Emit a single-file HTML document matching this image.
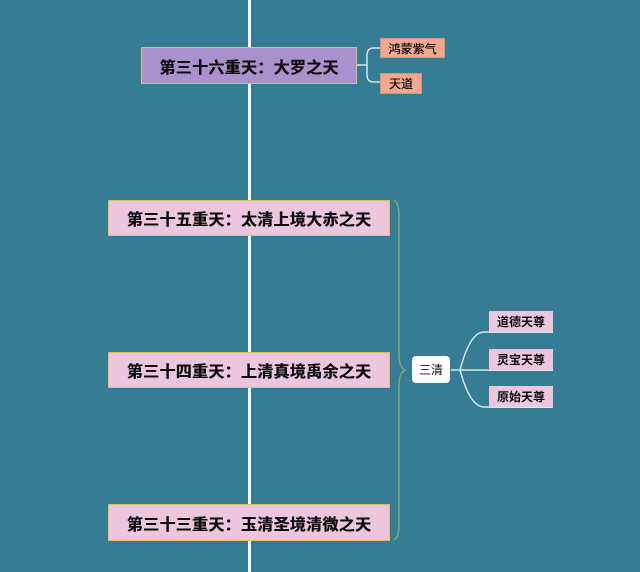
<!DOCTYPE html>
<html><head><meta charset="utf-8">
<style>
html,body{margin:0;padding:0}
body{width:640px;height:572px;background:#357c94;position:relative;overflow:hidden;font-family:"Liberation Sans","Noto Sans CJK SC",sans-serif}
.vl{position:absolute;left:248px;top:0;width:3px;height:572px;background:#fff}
.n{position:absolute;box-sizing:border-box;display:flex;align-items:center;justify-content:center;color:#0d0d0d;white-space:nowrap}
.big{border:1px solid #e9bd5c;font-size:16px;font-weight:bold;letter-spacing:0.3px;text-shadow:0.4px 0 0 #0d0d0d}
.pink{background:#ecc5de}
.purple{background:#aa90cc}
.sal{background:#f1a890;border:1px solid #e0907a;font-size:12px;text-shadow:0.3px 0 0 #0d0d0d}
.ch{background:#ecc5de;font-size:12px;font-weight:bold;border-bottom:1px solid #dfe8ee}
svg{position:absolute;left:0;top:0}
</style></head><body>
<div class="vl"></div>
<svg width="640" height="572">
<g fill="none" stroke="#d4e6ee" stroke-width="1.5">
<path d="M357 65 H367 M380 48 H374 Q367 48 367 55 V75 Q367 82 374 82 H380"/>
<path d="M451 370 H553"/>
<path d="M460 370 Q470 332 484 332 H553"/>
<path d="M460 370 Q470 407 484 407 H553"/>
</g>
<path d="M394 200 Q399 203 399 215 V355 Q399 367 405 370 Q399 373 399 385 V525 Q399 537 394 540" fill="none" stroke="#74a77a" stroke-width="1.6"/>
</svg>
<div class="n big purple" style="left:141px;top:47px;width:216px;height:37px">第三十六重天：大罗之天</div>
<div class="n sal" style="left:380px;top:38px;width:65px;height:20px">鸿蒙紫气</div>
<div class="n sal" style="left:380px;top:73px;width:42px;height:21px">天道</div>
<div class="n big pink" style="left:108px;top:200px;width:282px;height:36px">第三十五重天：太清上境大赤之天</div>
<div class="n big pink" style="left:108px;top:352px;width:282px;height:36px">第三十四重天：上清真境禹余之天</div>
<div class="n big pink" style="left:108px;top:504px;width:282px;height:37px">第三十三重天：玉清圣境清微之天</div>
<div class="n" style="left:412px;top:356px;width:38px;height:27px;background:#fff;border-radius:4px;font-size:12px">三清</div>
<div class="n ch" style="left:489px;top:311px;width:64px;height:22px">道德天尊</div>
<div class="n ch" style="left:489px;top:349px;width:64px;height:22px">灵宝天尊</div>
<div class="n ch" style="left:489px;top:386px;width:64px;height:22px">原始天尊</div>
</body></html>
